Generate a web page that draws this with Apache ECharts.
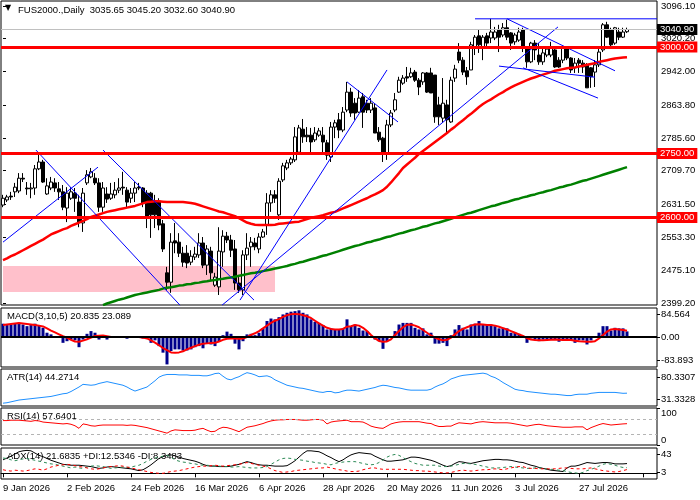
<!DOCTYPE html>
<html>
<head>
<meta charset="utf-8">
<script src="https://cdn.jsdelivr.net/npm/echarts@6/dist/echarts.min.js"></script>
<style>
  html, body { margin: 0; padding: 0; background: #fff; }
  #main { width: 700px; height: 500px; }
</style>
</head>
<body>
<div id="main"></div>
<script>
const FONT = "Liberation Sans";

// x axis: one slot per daily bar, a date label every 16 bars
const dateLabels = ["9 Jan 2026", "2 Feb 2026", "24 Feb 2026", "16 Mar 2026", "6 Apr 2026",
  "28 Apr 2026", "20 May 2026", "11 Jun 2026", "3 Jul 2026", "27 Jul 2026"];
const labelStep = 16;
const slotCount = 164;

const openPrices = [
  2629, 2641, 2650, 2660, 2662, 2692, 2669, 2667, 2669, 2714,
  2730, 2655, 2669, 2681, 2667, 2660, 2622, 2645, 2657, 2636,
  2587, 2681, 2695, 2692, 2681, 2624, 2655, 2645, 2653, 2664,
  2671, 2664, 2645, 2657, 2671, 2669, 2657, 2657, 2638, 2638,
  2585, 2470, 2448, 2545, 2542, 2516, 2516, 2495, 2507, 2512,
  2540, 2488, 2521, 2441, 2437, 2519, 2556, 2547, 2526, 2446,
  2430, 2512, 2531, 2540, 2526, 2554, 2582, 2634, 2653, 2606,
  2688, 2716, 2728, 2735, 2753, 2807, 2793, 2793, 2782, 2793,
  2793, 2775, 2742, 2812, 2829, 2805, 2852, 2894, 2868, 2847,
  2883, 2868, 2852, 2857, 2800, 2786, 2751, 2817, 2852, 2894,
  2915, 2930, 2930, 2941, 2922, 2918, 2939, 2939, 2934, 2864,
  2833, 2864, 2824, 2927, 2988, 2969, 2944, 2946, 3000, 3026,
  3000, 3026, 3021, 3021, 3040, 3028, 3045, 3033, 3012, 3016,
  3040, 2998, 2965, 3009, 2981, 2965, 2981, 2981, 2993, 2969,
  2969, 2998, 2974, 2951, 2969, 2962, 2958, 2951, 2941, 2958,
  2993, 3052, 3040, 3009, 3035, 3023, 3035.65
];
const closePrices = [
  2645, 2648, 2648, 2671, 2692, 2690, 2667, 2669, 2714, 2730,
  2683, 2674, 2683, 2669, 2660, 2624, 2657, 2660, 2645, 2589,
  2657, 2700, 2707, 2681, 2624, 2669, 2643, 2655, 2664, 2669,
  2669, 2636, 2657, 2669, 2669, 2634, 2599, 2606, 2606, 2582,
  2526, 2448, 2542, 2540, 2516, 2495, 2493, 2509, 2514, 2540,
  2488, 2526, 2470, 2460, 2521, 2556, 2547, 2523, 2446, 2430,
  2512, 2528, 2542, 2531, 2554, 2566, 2634, 2653, 2645, 2685,
  2721, 2728, 2737, 2789, 2810, 2789, 2789, 2777, 2798, 2803,
  2777, 2746, 2812, 2822, 2805, 2847, 2894, 2845, 2845, 2880,
  2847, 2852, 2868, 2798, 2782, 2751, 2817, 2845, 2876, 2922,
  2927, 2927, 2939, 2922, 2906, 2939, 2894, 2892, 2836, 2836,
  2868, 2829, 2922, 2948, 2969, 2941, 2930, 3005, 3023, 3005,
  3023, 3009, 3035, 3035, 3023, 3045, 3023, 3009, 3028, 3035,
  2998, 2965, 3009, 2993, 2965, 2986, 2995, 2998, 2953, 2953,
  2998, 2974, 2946, 2962, 2962, 2953, 2904, 2930, 2958, 2988,
  3052, 3023, 3005, 3045, 3023, 3035, 3040.90
];
const lowPrices = [
  2624, 2636, 2641, 2648, 2657, 2683, 2653, 2645, 2653, 2711,
  2681, 2653, 2664, 2660, 2641, 2617, 2589, 2641, 2613, 2577,
  2566, 2676, 2692, 2676, 2613, 2613, 2634, 2641, 2645, 2657,
  2653, 2622, 2634, 2636, 2664, 2624, 2575, 2552, 2575, 2570,
  2519, 2430, 2423, 2516, 2507, 2484, 2481, 2488, 2500, 2505,
  2481, 2465, 2453, 2437, 2418, 2484, 2540, 2507, 2430, 2423,
  2418, 2500, 2484, 2523, 2516, 2552, 2559, 2613, 2634, 2594,
  2683, 2711, 2723, 2730, 2751, 2775, 2777, 2751, 2777, 2789,
  2753, 2735, 2730, 2786, 2786, 2800, 2847, 2836, 2829, 2845,
  2810, 2845, 2845, 2798, 2777, 2730, 2735, 2812, 2847, 2892,
  2911, 2918, 2927, 2918, 2887, 2911, 2892, 2892, 2822, 2817,
  2822, 2798, 2822, 2918, 2962, 2934, 2911, 2946, 2981, 2986,
  2969, 3002, 3009, 3016, 2988, 3023, 3016, 2993, 3005, 3012,
  2988, 2951, 2962, 2969, 2958, 2958, 2976, 2976, 2951, 2951,
  2962, 2969, 2939, 2939, 2939, 2939, 2904, 2904, 2906, 2953,
  2988, 3021, 3000, 3005, 3016, 3021, 3032.60
];
const highPrices = [
  2653, 2653, 2660, 2681, 2704, 2704, 2683, 2681, 2723, 2751,
  2735, 2692, 2695, 2692, 2683, 2676, 2671, 2671, 2669, 2653,
  2669, 2711, 2716, 2704, 2692, 2683, 2671, 2681, 2683, 2692,
  2707, 2671, 2669, 2683, 2681, 2671, 2664, 2660, 2653, 2645,
  2594, 2484, 2563, 2587, 2563, 2531, 2535, 2523, 2531, 2563,
  2554, 2535, 2531, 2470, 2577, 2570, 2566, 2559, 2547, 2460,
  2523, 2563, 2554, 2552, 2563, 2573, 2657, 2664, 2664, 2692,
  2728, 2735, 2742, 2812, 2817, 2831, 2812, 2810, 2812, 2810,
  2812, 2782, 2824, 2829, 2845, 2859, 2918, 2904, 2880, 2899,
  2892, 2876, 2880, 2868, 2812, 2789, 2829, 2852, 2892, 2930,
  2934, 2953, 2951, 2946, 2927, 2941, 2941, 2951, 2934, 2883,
  2927, 2876, 2930, 2958, 3009, 2976, 2953, 3012, 3028, 3040,
  3028, 3033, 3066, 3047, 3052, 3056, 3064, 3035, 3033, 3045,
  3045, 3000, 3012, 3016, 3009, 3000, 3000, 3012, 3000, 2976,
  3000, 3000, 2976, 2974, 2974, 2969, 2962, 2953, 2969, 2998,
  3056, 3059, 3045, 3047, 3045, 3045, 3045.20
];

// moving averages as drawn on the chart (red fast, green slow)
const redAverage = [
  2500, 2504, 2509, 2513, 2518, 2523, 2528, 2533, 2538, 2543,
  2548, 2554, 2560, 2564, 2568, 2572, 2575, 2580, 2584, 2588,
  2592, 2596, 2601, 2604, 2607, 2610, 2613, 2615, 2617, 2619,
  2621, 2623, 2625, 2627, 2630, 2633, 2636, 2637, 2638, 2638,
  2637, 2636, 2636, 2636, 2636, 2636, 2635, 2634, 2632, 2629,
  2626, 2623, 2620, 2617, 2614, 2612, 2609, 2606, 2603, 2598,
  2593, 2588, 2585, 2583, 2582, 2582, 2582, 2582, 2583, 2585,
  2586, 2587, 2588, 2589, 2590, 2593, 2596, 2599, 2601, 2603,
  2605, 2608, 2611, 2613, 2617, 2621, 2625, 2629, 2633, 2637,
  2641, 2645, 2650, 2654, 2659, 2664, 2672, 2682, 2693, 2704,
  2716, 2724, 2732, 2740, 2749, 2756, 2763, 2770, 2777, 2784,
  2791, 2798, 2806, 2813, 2821, 2828, 2836, 2843, 2851, 2859,
  2866, 2872, 2877, 2883, 2889, 2894, 2900, 2905, 2910, 2914,
  2918, 2922, 2926, 2929, 2932, 2935, 2938, 2941, 2944, 2946,
  2948, 2950, 2951, 2952, 2954, 2956, 2958, 2960, 2962, 2965,
  2967, 2969, 2971, 2973, 2974, 2975, 2976
];
const greenAverage = [
  null, null, null, null, null, null, null, null, null, null,
  null, null, null, null, null, null, null, null, null, null,
  null, null, null, null, null, 2394, 2398, 2401, 2404, 2407,
  2409, 2412, 2415, 2418, 2420, 2422, 2424, 2426, 2428, 2430,
  2433, 2435, 2436, 2438, 2440, 2441, 2443, 2444, 2446, 2447,
  2449, 2450, 2452, 2453, 2455, 2456, 2458, 2459, 2461, 2463,
  2465, 2467, 2469, 2470, 2472, 2474, 2476, 2478, 2480, 2482,
  2484, 2486, 2489, 2491, 2494, 2496, 2499, 2502, 2504, 2507,
  2510, 2512, 2515, 2518, 2521, 2524, 2527, 2530, 2533, 2535,
  2538, 2541, 2543, 2546, 2548, 2551, 2554, 2556, 2559, 2562,
  2564, 2567, 2570, 2572, 2575, 2578, 2580, 2583, 2586, 2588,
  2591, 2594, 2597, 2600, 2603, 2606, 2609, 2611, 2614, 2617,
  2620, 2623, 2626, 2628, 2631, 2634, 2636, 2639, 2642, 2644,
  2647, 2649, 2652, 2654, 2657, 2659, 2662, 2664, 2667, 2670,
  2672, 2675, 2677, 2680, 2683, 2686, 2688, 2691, 2694, 2697,
  2700, 2703, 2706, 2709, 2712, 2715, 2718
];

// horizontal levels, last price, highlighted zone
const levelPrices = [3000, 2750, 2600];
const lastPrice = 3040.90;
const zoneBars = [0, 68];
const zonePrices = [2425, 2486];

// drawn trend lines: [barIndex, price] pairs
const trendLines = [
  [[0, 2542], [23.75, 2718]],
  [[8.25, 2758], [44.25, 2394]],
  [[25, 2758], [62.75, 2406]],
  [[59.25, 2406], [96, 2946]],
  [[54.75, 2394], [138.75, 3047]],
  [[86, 2918], [98.75, 2824]],
  [[118, 3066], [163.5, 3066]],
  [[126, 3066], [153, 2944]],
  [[130, 2951], [148.75, 2880]],
  [[124, 2955], [148, 2929]]
];

const macdMain = [
  49, 44, 46, 49, 52, 46, 40, 44, 49, 44,
  34, 16, 10, 0, -2, -21, -15, -9, -12, -37,
  -9, 12, 22, 16, -9, -2, -9, -2, 0, 4,
  4, -6, -2, 2, 4, -5, -5, -21, -12, -33,
  -57, -100, -51, -45, -45, -49, -49, -45, -37, -33,
  -41, -24, -27, -33, -15, 7, 20, 12, -24, -45,
  -15, 10, 12, 7, 16, 32, 59, 68, 65, 73,
  83, 89, 93, 95, 98, 89, 83, 65, 56, 52,
  44, 28, 32, 28, 28, 32, 65, 40, 46, 34,
  24, 22, 4, -9, -15, -43, -15, -2, 22, 46,
  52, 52, 52, 34, 28, 32, 10, 16, -24, -24,
  -21, -33, 7, 28, 44, 34, 28, 46, 49, 59,
  46, 44, 46, 40, 32, 34, 32, 16, 16, 12,
  0, -21, -5, -9, -15, -9, -9, -9, -9, -17,
  -9, -9, -12, -21, -12, -12, -27, -12, -2, 16,
  40, 40, 24, 34, 32, 32, 20.835
];
const macdSignal = [
  44, 46, 48, 50, 52, 50, 48, 46, 44, 42,
  39, 32, 24, 17, 10, 3, -2, -10, -16, -17,
  -13, -8, -2, 4, 5, 6, 3, 0, 0, 0,
  0, 0, 0, 0, 0, -2, -5, -12, -20, -30,
  -40, -48, -56, -57, -56, -52, -45, -39, -33, -28,
  -24, -23, -22, -21, -16, -10, -6, -5, -5, -6,
  -5, 0, 8, 14, 22, 32, 42, 52, 60, 66,
  74, 80, 84, 85, 84, 80, 76, 70, 60, 50,
  42, 34, 30, 28, 28, 30, 38, 40, 44, 42,
  34, 22, 8, -5, -14, -17, -16, -8, 8, 22,
  36, 45, 46, 42, 36, 26, 16, 6, -2, -8,
  -12, -10, -2, 10, 22, 30, 36, 42, 46, 47,
  46, 44, 44, 42, 38, 33, 28, 22, 16, 10,
  4, -4, -9, -11, -12, -12, -11, -10, -9, -10,
  -11, -10, -11, -13, -15, -16, -17, -17, -15, -5,
  8, 20, 28, 30, 28, 26, 23.089
];
const atrValues = [
  22, 23, 25, 27, 29, 30, 31, 32, 33, 34,
  35, 36, 37, 39, 41, 43, 44, 48, 53, 58,
  64, 63, 62, 63, 66, 68, 70, 68, 66, 64,
  62, 58, 53, 49, 52, 55, 58, 65, 72, 80,
  84, 86, 86, 86, 85, 85, 85, 84, 84, 84,
  83, 83, 85, 88, 89, 82, 76, 74, 78, 81,
  86, 90, 88, 85, 81, 82, 83, 80, 74, 70,
  66, 62, 60, 58, 56, 55, 53, 51, 49, 47,
  46, 48, 48, 45, 46, 49, 51, 51, 50, 49,
  51, 53, 55, 57, 60, 62, 61, 59, 57, 56,
  54, 52, 51, 51, 51, 51, 51, 53, 58, 62,
  65, 70, 76, 79, 82, 84, 85, 86, 87, 88,
  89, 87, 82, 79, 74, 68, 63, 58, 53, 51,
  50, 48, 47, 46, 45, 44, 43, 42, 42, 41,
  40, 39, 39, 41, 42, 42, 42, 44, 45, 46,
  46, 46, 46, 46, 45, 44, 44.2714
];
const rsiValues = [
  66, 66, 67, 67, 67, 66, 65, 64, 66, 65,
  62, 61, 60, 59, 58, 57, 58, 56, 52, 45,
  57, 55, 52, 51, 53, 54, 54, 54, 54, 54,
  54, 53, 54, 53, 51, 49, 47, 44, 41, 38,
  35, 32, 38, 41, 40, 39, 39, 39, 40, 43,
  45, 40, 36, 37, 44, 48, 47, 44, 40, 36,
  42, 48, 50, 52, 55, 58, 62, 65, 67, 68,
  68, 69, 69, 69, 68, 67, 67, 68, 69, 69,
  67, 57, 62, 64, 65, 66, 67, 63, 63, 63,
  62, 57, 51, 48, 46, 45, 51, 57, 60, 62,
  63, 63, 63, 63, 63, 61, 59, 58, 53, 50,
  50, 51, 51, 56, 60, 59, 58, 57, 60, 62,
  63, 62, 61, 60, 60, 60, 60, 59, 57, 55,
  53, 51, 53, 55, 56, 54, 52, 51, 50, 49,
  48, 48, 48, 49, 49, 49, 41, 47, 51, 55,
  58, 56, 54, 55, 56, 57, 57.6401
];
const adxValues = [
  30, 34, 38, 43, 48, 50, 51, 50, 45, 40,
  37, 33, 29, 26, 23, 20, 19, 18, 18, 18,
  17, 16, 15, 13, 11, 12, 14, 15, 14, 13,
  12, 11, 10, 8, 6, 8, 13, 19, 26, 33,
  37, 40, 41, 39, 36, 33, 31, 29, 27, 24,
  20, 17, 16, 16, 15, 15, 15, 16, 18, 20,
  23, 26, 24, 21, 19, 18, 18, 17, 16, 16,
  16, 17, 22, 28, 36, 44, 50, 50, 49, 48,
  44, 39, 35, 30, 26, 30, 36, 41, 44, 46,
  45, 44, 43, 38, 34, 30, 27, 27, 28, 29,
  30, 33, 36, 36, 35, 33, 31, 29, 26, 22,
  18, 15, 17, 22, 26, 25, 23, 22, 24, 26,
  28, 29, 30, 31, 31, 30, 30, 29, 27, 25,
  24, 21, 18, 16, 13, 11, 9, 7, 6, 5,
  4, 12, 16, 16, 18, 21, 24, 23, 22, 23,
  24, 24, 23, 21, 21, 21, 21.6835
];
const plusDi = [
  34, 33, 30, 28, 30, 32, 33, 31, 29, 27,
  25, 23, 21, 20, 18, 16, 14, 12, 14, 12,
  11, 14, 16, 17, 16, 15, 13, 11, 12, 13,
  14, 13, 14, 16, 18, 22, 27, 31, 34, 36,
  38, 40, 36, 30, 27, 25, 24, 22, 21, 19,
  18, 18, 17, 16, 16, 15, 15, 14, 14, 15,
  14, 13, 12, 12, 12, 13, 15, 20, 25, 30,
  33, 34, 33, 31, 30, 29, 27, 26, 24, 23,
  22, 20, 19, 22, 24, 25, 26, 26, 26, 24,
  22, 20, 19, 20, 24, 30, 36, 40, 42, 40,
  35, 30, 26, 22, 20, 18, 18, 18, 18, 16,
  15, 15, 16, 18, 20, 22, 22, 21, 20, 18,
  16, 14, 12, 12, 12, 13, 14, 15, 14, 13,
  12, 11, 11, 12, 12, 11, 10, 9, 8, 7,
  6, 4, 2, 1, 0, 2, 6, 9, 12, 16,
  20, 22, 20, 18, 15, 13, 12.5346
];
const minusDi = [
  8, 6, 5, 7, 6, 5, 6, 8, 10, 9,
  7, 10, 14, 16, 18, 19, 20, 19, 17, 15,
  14, 12, 10, 9, 10, 12, 14, 15, 16, 17,
  16, 14, 12, 10, 8, 6, 4, 2, 1, 0,
  0, 2, 4, 5, 6, 8, 10, 12, 14, 15,
  16, 16, 17, 18, 17, 16, 17, 18, 19, 20,
  22, 24, 22, 20, 18, 16, 14, 10, 6, 4,
  2, 3, 4, 6, 7, 8, 9, 10, 11, 12,
  12, 14, 12, 10, 8, 7, 5, 4, 4, 5,
  8, 10, 12, 12, 10, 9, 9, 9, 9, 9,
  9, 8, 7, 6, 6, 5, 5, 4, 3, 2,
  1, 1, 2, 4, 6, 7, 6, 5, 6, 7,
  8, 8, 9, 10, 9, 8, 10, 12, 14, 15,
  15, 12, 11, 11, 10, 10, 10, 10, 10, 11,
  12, 12, 11, 10, 10, 10, 11, 12, 10, 8,
  6, 5, 4, 3, 4, 6, 8.3483
];

// right-hand scale labels
const priceTicks = [2399.2, 2475.1, 2553.3, 2631.5, 2709.7, 2785.6, 2863.8, 2942.0, 3020.2, 3096.1];
const macdTicks = [-83.893, 0, 84.564];
const atrTicks = [31.3328, 80.3307];
const rsiTicks = [0, 30, 70, 100];
const rsiLevels = [70, 30];
const adxTicks = [3, 43];

const candles = openPrices.map((o, i) => [o, closePrices[i], lowPrices[i], highPrices[i]]);
const slots = Array.from({ length: slotCount }, (_, i) => String(i));

const panels = [
  { top: 1, height: 304 },
  { top: 308, height: 59 },
  { top: 369, height: 37 },
  { top: 408, height: 37 },
  { top: 448, height: 31 }
];

const xAxes = panels.map((p, gi) => {
  const bottom = gi === panels.length - 1;
  return {
    type: "category",
    gridIndex: gi,
    data: slots,
    boundaryGap: true,
    axisLine: { show: bottom, lineStyle: { color: "#000" } },
    axisTick: { show: bottom, alignWithLabel: true, interval: labelStep - 1, length: 4, lineStyle: { color: "#000" } },
    axisLabel: {
      show: bottom,
      interval: labelStep - 1,
      align: "left",
      margin: 4,
      color: "#000",
      fontFamily: FONT,
      fontSize: 9.5,
      formatter: (v, idx) => (idx % labelStep === 0 ? dateLabels[idx / labelStep] || "" : "")
    },
    splitLine: { show: false }
  };
});
xAxes.push({ type: "value", gridIndex: 0, min: -0.5, max: slotCount - 0.5, show: false });

const valueAxis = (gi, min, max, ticks, fmt, extraLabel) => ({
  type: "value",
  gridIndex: gi,
  position: "right",
  min: min,
  max: max,
  splitLine: { show: false },
  axisLine: { show: false },
  axisTick: { show: true, length: 3, customValues: ticks, lineStyle: { color: "#000" } },
  axisLabel: Object.assign({
    customValues: ticks,
    formatter: fmt,
    showMinLabel: true,
    showMaxLabel: true,
    hideOverlap: false,
    color: "#000",
    fontFamily: FONT,
    fontSize: 9.5,
    margin: 4
  }, extraLabel || {})
});

const boxLabel = (text, bg) => ({
  show: true,
  position: "end",
  distance: 0,
  formatter: text,
  color: "#fff",
  backgroundColor: bg,
  padding: [1, 3, 0, 3],
  fontFamily: FONT,
  fontSize: 9.5
});

const option = {
  animation: false,
  backgroundColor: "#fff",
  textStyle: { fontFamily: FONT },
  grid: panels.map((p) => ({
    left: 1, right: 43, top: p.top, height: p.height,
    show: true, borderColor: "#000", borderWidth: 1, backgroundColor: "transparent"
  })),
  xAxis: xAxes,
  yAxis: [
    valueAxis(0, 2394.5, 3107.8, priceTicks, (v) => v.toFixed(2)),
    valueAxis(1, -109.5, 106.5, macdTicks, (v) => (v === 0 ? "0.00" : String(v))),
    valueAxis(2, 15.7, 98.2, atrTicks, (v) => v.toFixed(4)),
    valueAxis(3, 0, 100, rsiTicks, (v) => String(v), { verticalAlignMinLabel: "bottom", verticalAlignMaxLabel: "top" }),
    valueAxis(4, -12.6, 56.3, adxTicks, (v) => String(v))
  ],
  graphic: [
    { type: "text", left: 5, top: 4, style: { text: "\u25BC", font: "8px DejaVu Sans", fill: "#000" } },
    { type: "text", left: 18, top: 5, style: { text: "FUS2000.,Daily  3035.65 3045.20 3032.60 3040.90", font: "9.5px " + FONT, fill: "#000" } },
    { type: "text", left: 7, top: 311, style: { text: "MACD(3,10,5) 20.835 23.089", font: "9.5px " + FONT, fill: "#000" } },
    { type: "text", left: 7, top: 372, style: { text: "ATR(14) 44.2714", font: "9.5px " + FONT, fill: "#000" } },
    { type: "text", left: 7, top: 411, style: { text: "RSI(14) 57.6401", font: "9.5px " + FONT, fill: "#000" } },
    { type: "text", left: 7, top: 451, style: { text: "ADX(14) 21.6835 +DI:12.5346 -DI:8.3483", font: "9.5px " + FONT, fill: "#000" } }
  ],
  series: [
    {
      type: "candlestick",
      xAxisIndex: 0,
      yAxisIndex: 0,
      data: candles,
      barWidth: 3,
      itemStyle: { color: "#fff", color0: "#000", borderColor: "#000", borderColor0: "#000", borderWidth: 1 },
      markArea: {
        silent: true,
        itemStyle: { color: "#ffc0cb" },
        data: [[{ xAxis: zoneBars[0], yAxis: zonePrices[0] }, { xAxis: zoneBars[1], yAxis: zonePrices[1] }]]
      },
      markLine: {
        silent: true,
        symbol: "none",
        data: levelPrices.map((p) => ({
          yAxis: p,
          lineStyle: { color: "#ff0000", width: 3, type: "solid" },
          label: boxLabel(p.toFixed(2), "#ff0000")
        })).concat([{
          yAxis: lastPrice,
          lineStyle: { color: "#c0c0c0", width: 1, type: "solid" },
          label: boxLabel(lastPrice.toFixed(2), "#000")
        }])
      }
    },
    {
      type: "line", xAxisIndex: 0, yAxisIndex: 0, data: redAverage,
      showSymbol: false, silent: true, lineStyle: { color: "#ff0000", width: 2.5 }
    },
    {
      type: "line", xAxisIndex: 0, yAxisIndex: 0, data: greenAverage,
      showSymbol: false, silent: true, lineStyle: { color: "#008000", width: 2.5 }
    }
  ].concat(trendLines.map((seg) => ({
    type: "line", xAxisIndex: 5, yAxisIndex: 0, data: seg,
    showSymbol: false, silent: true, lineStyle: { color: "#0000ff", width: 1 }
  }))).concat([
    {
      type: "bar", xAxisIndex: 1, yAxisIndex: 1, data: macdMain, barWidth: 3,
      silent: true, itemStyle: { color: "#00008b" },
      markLine: {
        silent: true, symbol: "none", label: { show: false },
        lineStyle: { color: "#000", width: 2, type: "solid" },
        data: [{ yAxis: 0 }]
      }
    },
    {
      type: "line", xAxisIndex: 1, yAxisIndex: 1, data: macdSignal,
      showSymbol: false, silent: true, lineStyle: { color: "#ff0000", width: 2 }
    },
    {
      type: "line", xAxisIndex: 2, yAxisIndex: 2, data: atrValues,
      showSymbol: false, silent: true, lineStyle: { color: "#1e90ff", width: 1 }
    },
    {
      type: "line", xAxisIndex: 3, yAxisIndex: 3, data: rsiValues,
      showSymbol: false, silent: true, lineStyle: { color: "#ff0000", width: 1 },
      markLine: {
        silent: true, symbol: "none", label: { show: false },
        lineStyle: { color: "#b4b4b4", width: 1, type: [3, 3] },
        data: rsiLevels.map((v) => ({ yAxis: v }))
      }
    },
    {
      type: "line", xAxisIndex: 4, yAxisIndex: 4, data: adxValues,
      showSymbol: false, silent: true, lineStyle: { color: "#000", width: 1 }
    },
    {
      type: "line", xAxisIndex: 4, yAxisIndex: 4, data: plusDi,
      showSymbol: false, silent: true, lineStyle: { color: "#2e8b57", width: 1, type: [3, 3] }
    },
    {
      type: "line", xAxisIndex: 4, yAxisIndex: 4, data: minusDi,
      showSymbol: false, silent: true, lineStyle: { color: "#ff0000", width: 1, type: [3, 3] }
    }
  ])
};

const chart = echarts.init(document.getElementById("main"), null, { renderer: "canvas" });
chart.setOption(option);
</script>
</body>
</html>
